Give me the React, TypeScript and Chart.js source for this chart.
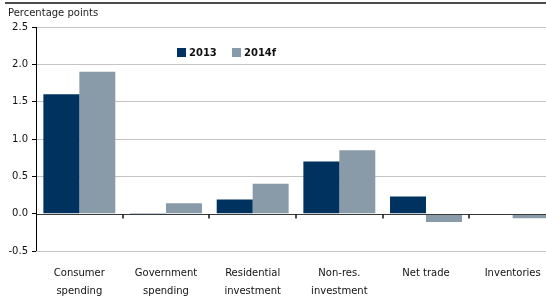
import React, { useEffect, useRef } from "react";
import { Chart, registerables } from "chart.js";

Chart.register(...registerables);

const categories = [
  ["Consumer", "spending"],
  ["Government", "spending"],
  ["Residential", "investment"],
  ["Non-res.", "investment"],
  "Net trade",
  "Inventories",
];
const series2013 = [1.6, 0.01, 0.19, 0.7, 0.23, 0.0];
const series2014f = [1.9, 0.14, 0.4, 0.85, -0.11, -0.06];
const yTicks = [-0.5, 0, 0.5, 1.0, 1.5, 2.0, 2.5];
const seriesNames = ["2013", "2014f"];
const colors = ["#00325f", "#899aa8"];
const FONT = "'DejaVu Sans', Verdana, sans-serif";

const decorPlugin = {
  id: "decor",
  afterDraw(chart: any) {
    const ctx = chart.ctx;
    const y = chart.scales.y;
    const area = chart.chartArea;
    const y0 = Math.round(y.getPixelForValue(0)) + 0.5;
    ctx.save();
    // zero line
    ctx.strokeStyle = "#3a3a3a";
    ctx.lineWidth = 1.2;
    ctx.beginPath();
    ctx.moveTo(area.left, y0);
    ctx.lineTo(area.right, y0);
    ctx.stroke();
    // category separator ticks
    const n = chart.data.labels.length;
    const w = (area.right - area.left) / n;
    ctx.strokeStyle = "#111";
    ctx.lineWidth = 1.5;
    for (let i = 1; i < n; i++) {
      const px = Math.round(area.left + i * w);
      ctx.beginPath();
      ctx.moveTo(px, y0);
      ctx.lineTo(px, y0 + 4);
      ctx.stroke();
    }
    // y axis line
    ctx.strokeStyle = "#000";
    ctx.lineWidth = 1;
    const ax = Math.round(area.left) + 0.5;
    ctx.beginPath();
    ctx.moveTo(ax, area.top);
    ctx.lineTo(ax, area.bottom);
    ctx.stroke();
    // top rule
    ctx.strokeStyle = "#111";
    ctx.lineWidth = 1.5;
    ctx.beginPath();
    ctx.moveTo(5, 3);
    ctx.lineTo(560, 3);
    ctx.stroke();
    // axis title
    ctx.fillStyle = "#222";
    ctx.font = `10px ${FONT}`;
    ctx.textBaseline = "middle";
    ctx.textAlign = "left";
    ctx.fillText("Percentage points", 8, 13);
    // legend
    ctx.font = `bold 10px ${FONT}`;
    const lx = [177, 232];
    chart.data.datasets.forEach((ds: any, i: number) => {
      ctx.fillStyle = ds.backgroundColor;
      ctx.fillRect(lx[i], 48, 9, 9);
      ctx.fillStyle = "#111";
      ctx.fillText(ds.label, lx[i] + 12, 53);
    });
    ctx.restore();
  },
};

export default function App() {
  const ref = useRef<HTMLCanvasElement>(null);
  useEffect(() => {
    if (!ref.current) return;
    const chart = new Chart(ref.current, {
      type: "bar",
      data: {
        labels: categories as any,
        datasets: [
          { label: seriesNames[0], data: series2013, backgroundColor: colors[0] },
          { label: seriesNames[1], data: series2014f, backgroundColor: colors[1] },
        ],
      },
      options: {
        animation: false,
        responsive: false,
        maintainAspectRatio: false,
        layout: { padding: { top: 27, right: 0, left: 0, bottom: 0 } },
        plugins: { legend: { display: false }, tooltip: { enabled: false } },
        datasets: { bar: { categoryPercentage: 0.83, barPercentage: 1.0 } },
        scales: {
          x: {
            grid: { display: false },
            border: { display: false },
            ticks: {
              color: "#111",
              font: { family: FONT, size: 10, lineHeight: 1.8 },
              padding: 5,
              maxRotation: 0,
              autoSkip: false,
            },
            afterFit: (s: any) => {
              s.height = 48;
            },
          },
          y: {
            min: -0.5,
            max: 2.5,
            afterBuildTicks: (s: any) => {
              s.ticks = yTicks.map((v) => ({ value: v }));
            },
            grid: {
              color: (c: any) => (c.tick && c.tick.value === 0 ? "rgba(0,0,0,0)" : "#c4c4c4"),
              tickColor: "#000",
              tickLength: 4,
              drawTicks: true,
            },
            border: { display: false },
            ticks: {
              color: "#111",
              font: { family: FONT, size: 10 },
              padding: 4,
              callback: (v: any) => Number(v).toFixed(1),
            },
            afterFit: (s: any) => {
              s.width = 36;
            },
          },
        },
      },
      plugins: [decorPlugin],
    });
    return () => chart.destroy();
  }, []);
  return (
    <div
      style={{
        position: "fixed",
        left: 0,
        top: 0,
        width: 546,
        height: 299,
        overflow: "hidden",
        background: "#fff",
      }}
    >
      <canvas ref={ref} width={556} height={299} style={{ width: 556, height: 299 }} />
    </div>
  );
}
